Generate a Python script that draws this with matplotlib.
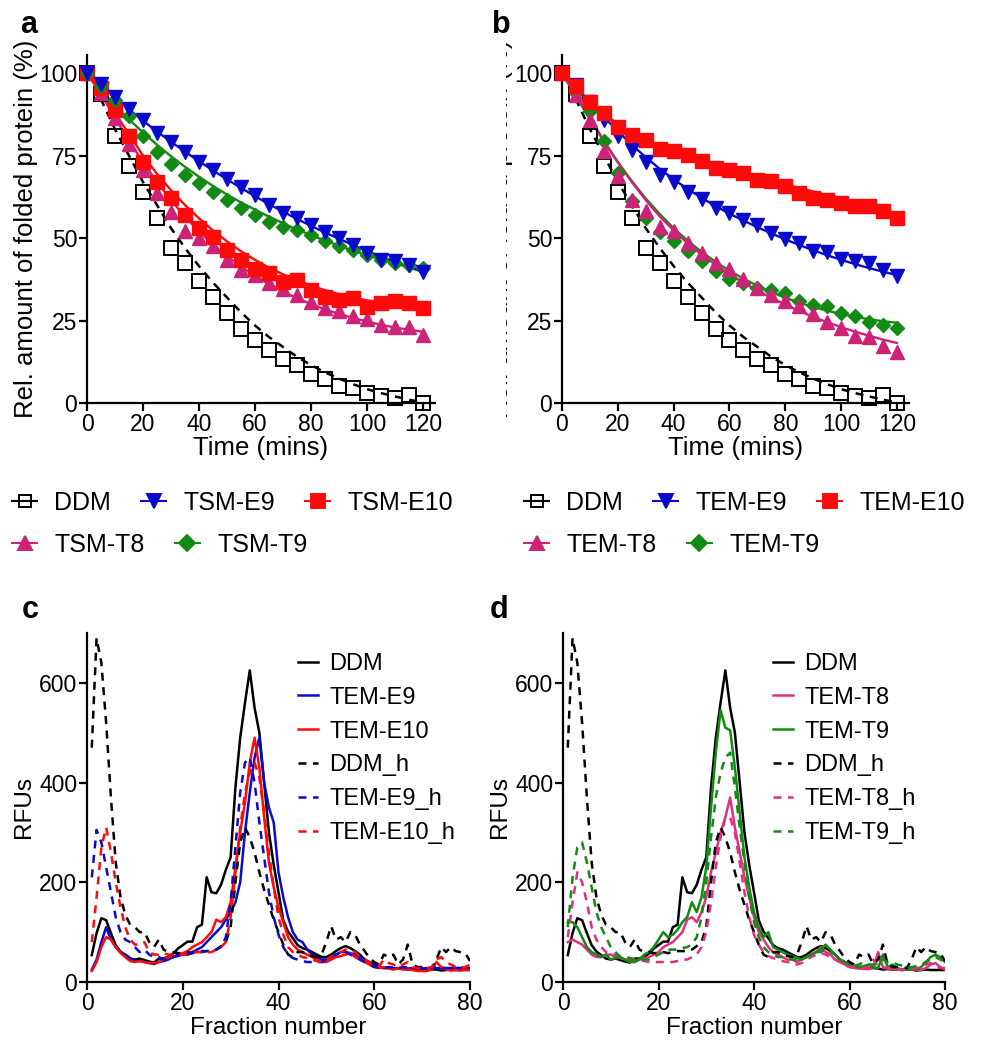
import numpy as np
import matplotlib.pyplot as plt
from matplotlib.lines import Line2D
from matplotlib.transforms import Bbox, TransformedBbox

plt.rcParams['font.family'] = ['Liberation Sans', 'DejaVu Sans']

#---------------------------------------------
# data : thermal stability (a, b)
time_min = list(range(0, 121, 5))

ddm_pts = [100, 93.6, 81, 72, 64, 56, 47, 42.4, 37, 32, 27.3, 22.4, 19.2,
           16.2, 13.3, 11.5, 8.8, 7.2, 5.2, 4.4, 2.9, 2.1, 1.4, 2.4, 0]
ddm_fit = [100, 92, 83, 75, 67, 60, 53, 47, 41.5, 36.5, 32, 27.5, 23.5,
           20, 17, 14, 11.5, 9.3, 7.4, 5.7, 4.2, 3, 2, 1, 0.2]

tsm_e9_pts = [100, 96.8, 92.8, 89.2, 85.7, 81.8, 79.2, 76.2, 73.1, 70.5, 68,
              65.6, 63, 60, 57.5, 56, 53.9, 51.9, 49.9, 47.9, 45.5, 43.5,
              43, 41.8, 39.8]
tsm_e9_fit = [100, 96.3, 92.6, 89, 85.6, 82.3, 79.2, 76.2, 73.3, 70.5, 67.8,
              65.2, 62.7, 60.3, 58, 55.8, 53.7, 51.7, 49.8, 47.9, 46.1, 44.4,
              42.8, 41.2, 39.7]
tsm_e10_pts = [100, 95.5, 88.8, 81, 73, 67, 62, 57, 53, 50.4, 46.4, 43.5,
               40.5, 39.3, 36.8, 37.3, 34.2, 32.2, 31.2, 31.7, 29.2, 30.2,
               31, 30.2, 28.7]
tsm_e10_fit = [100, 94.5, 88, 81.5, 75, 69.5, 64.5, 60, 56, 52.3, 49, 46,
               43.4, 41, 39, 37.2, 35.6, 34.2, 33, 32, 31.1, 30.4, 29.8,
               29.3, 28.9]
tsm_t8_pts = [100, 94, 86.5, 78.5, 70.5, 63.6, 58, 52, 49.9, 47.5, 43.3,
              40.3, 38.8, 36.5, 34.7, 32.7, 30.7, 28.7, 28, 26.3, 25.4, 23.6,
              23.1, 23.1, 20.6]
tsm_t8_fit = [100, 93.5, 86.5, 79.5, 73, 67, 61.5, 56.5, 52, 48, 44.5, 41.3,
              38.5, 36, 33.8, 31.8, 30, 28.4, 27, 25.8, 24.7, 23.7, 22.9,
              22.2, 21.6]
tsm_t9_pts = [100, 96, 92, 87, 81, 76, 72.6, 69, 66.6, 64, 61.5, 59, 57, 55,
              53.5, 52.5, 51, 49, 47.5, 46.4, 44.8, 43.3, 42.3, 41.8, 40.8]
tsm_t9_fit = [100, 95, 90.3, 86, 82, 78.3, 74.8, 71.6, 68.6, 65.8, 63.2,
              60.8, 58.6, 56.5, 54.5, 52.6, 50.9, 49.2, 47.7, 46.2, 44.8,
              43.5, 42.3, 41.2, 40.2]

tem_e9_pts = [100, 96.5, 91.4, 85.7, 80.8, 76.8, 73, 69.2, 66.9, 64.1, 61.8,
              59.1, 57.6, 55.6, 54, 51.5, 49.7, 48.5, 46, 45.8, 43.6, 43.1,
              42.4, 40.2, 38.6]
tem_e9_fit = [100, 95.8, 91.2, 86.7, 82.4, 78.3, 74.5, 71, 67.8, 64.9, 62.2,
              59.7, 57.4, 55.3, 53.3, 51.4, 49.6, 47.9, 46.3, 44.8, 43.4,
              42.1, 40.9, 39.8, 38.8]
tem_e10_pts = [100, 96, 91.4, 87.9, 83.8, 81.3, 79.8, 77, 76.3, 75.3, 73.4,
               71.2, 70.7, 69.7, 67.7, 67.2, 65.7, 63.8, 62.1, 61.6, 60.6,
               59.6, 59.6, 58.1, 56]
tem_e10_fit = [100, 95.5, 91.3, 87.7, 84.6, 82, 79.8, 77.9, 76.2, 74.7, 73.3,
               72, 70.8, 69.6, 68.5, 67.4, 66.3, 65.2, 64.1, 63, 61.9, 60.8,
               59.7, 58.6, 57.5]
tem_t8_pts = [100, 93.4, 85.9, 76.3, 68.7, 61.6, 58.1, 53.5, 52, 48.5, 45.5,
              42.4, 40.6, 37.6, 34.8, 32.8, 30.8, 29.3, 27, 24.7, 22.7, 20.2,
              20, 17.4, 15.4]
tem_t8_fit = [100, 93.5, 86.5, 79.5, 73, 67, 61.5, 56.6, 52.3, 48.4, 45,
              41.9, 39.1, 36.5, 34.1, 31.9, 29.8, 27.9, 26.1, 24.5, 23, 21.6,
              20.4, 19.2, 18.2]
tem_t9_pts = [100, 94, 88.4, 79.5, 69.7, 61.1, 56, 51.8, 49, 46, 42.9, 39.9,
              37.6, 36.4, 34.8, 34.3, 33.3, 30.8, 29.8, 29.3, 27.3, 26.5,
              24.7, 23.5, 22.7]
tem_t9_fit = [100, 93, 86, 79.3, 73, 67.3, 62, 57.3, 53, 49.2, 45.8, 42.8,
              40.1, 37.7, 35.5, 33.6, 31.9, 30.4, 29.1, 28, 27, 26.1, 25.4,
              24.8, 24.3]

#---------------------------------------------
# data : size exclusion profiles (c, d)
fraction = list(range(1, 81))

ddm_sec = [54, 98, 128, 124, 98, 74, 61, 54, 47, 45,
           47, 44, 41, 39, 47, 47, 51, 57, 67, 74,
           81, 81, 110, 115, 210, 180, 178, 195, 225, 250,
           390, 490, 560, 625, 550, 500, 400, 300, 235, 180,
           124, 101, 88, 74, 68, 65, 60, 55, 50, 50,
           55, 62, 68, 72, 68, 62, 55, 45, 40, 35,
           30, 28, 28, 27, 28, 27, 25, 26, 25, 25,
           24, 25, 25, 23, 24, 25, 24, 24, 24, 24]
ddm_h_sec = [470, 690, 640, 520, 370, 240, 170, 135, 115, 110,
             100, 100, 80, 70, 85, 65, 60, 60, 58, 58,
             60, 58, 60, 62, 62, 62, 65, 72, 80, 110,
             200, 280, 310, 290, 260, 220, 185, 155, 125, 100,
             75, 55, 50, 60, 60, 55, 52, 50, 55, 80,
             112, 85, 90, 80, 100, 95, 75, 62, 48, 40,
             35, 55, 50, 55, 35, 45, 75, 35, 30, 30,
             30, 28, 45, 70, 60, 70, 62, 60, 58, 42]
tem_e9_sec = [25, 45, 80, 110, 85, 70, 60, 55, 48, 42,
              42, 40, 38, 36, 40, 42, 45, 50, 52, 55,
              55, 60, 65, 70, 80, 90, 100, 110, 125, 140,
              160, 200, 300, 380, 450, 490, 400, 350, 320, 220,
              170, 130, 100, 85, 80, 65, 55, 50, 45, 45,
              50, 55, 60, 60, 58, 55, 50, 42, 38, 33,
              30, 28, 29, 28, 27, 28, 27, 28, 28, 27,
              28, 27, 28, 28, 27, 28, 28, 27, 28, 28]
tem_e10_sec = [22, 40, 70, 90, 85, 70, 58, 50, 42, 40,
               42, 40, 38, 38, 40, 45, 50, 50, 55, 58,
               62, 70, 75, 80, 90, 100, 125, 120, 130, 160,
               230, 300, 360, 440, 490, 430, 330, 240, 190, 150,
               120, 90, 75, 65, 60, 55, 50, 45, 40, 40,
               45, 50, 52, 55, 58, 50, 45, 40, 35, 30,
               28, 30, 27, 25, 27, 25, 25, 24, 22, 22,
               22, 25, 40, 30, 25, 23, 24, 23, 25, 24]
tem_e9_h_sec = [210, 305, 280, 230, 180, 130, 100, 85, 80, 70,
                60, 65, 55, 50, 50, 45, 45, 50, 55, 55,
                55, 58, 60, 60, 62, 62, 65, 70, 90, 160,
                270, 380, 440, 450, 400, 320, 250, 180, 130, 95,
                70, 55, 48, 45, 42, 40, 40, 40, 40, 45,
                50, 55, 58, 60, 55, 50, 45, 40, 35, 30,
                29, 28, 30, 29, 28, 30, 29, 28, 28, 29,
                28, 28, 30, 29, 28, 28, 29, 28, 30, 29]
tem_e10_h_sec = [80, 170, 270, 310, 260, 200, 150, 110, 85, 75,
                 75, 80, 60, 55, 55, 58, 55, 55, 55, 55,
                 55, 58, 60, 60, 60, 60, 65, 70, 80, 130,
                 220, 310, 380, 420, 440, 410, 340, 260, 190, 130,
                 95, 70, 60, 55, 50, 48, 45, 42, 40, 45,
                 50, 55, 60, 65, 65, 60, 50, 45, 40, 35,
                 32, 45, 38, 35, 30, 35, 40, 30, 28, 27,
                 27, 30, 45, 50, 40, 35, 30, 28, 30, 35]
tem_t8_sec = [80, 85, 80, 75, 65, 55, 50, 50, 55, 55,
              50, 48, 45, 45, 42, 45, 48, 50, 55, 60,
              70, 75, 80, 90, 100, 125, 130, 120, 140, 170,
              220, 260, 300, 330, 370, 310, 260, 210, 170, 130,
              100, 85, 70, 60, 55, 50, 45, 45, 40, 45,
              50, 55, 60, 70, 60, 55, 45, 40, 35, 30,
              28, 27, 26, 26, 28, 60, 30, 27, 26, 25,
              24, 25, 25, 25, 24, 28, 35, 38, 30, 25]
tem_t9_sec = [120, 120, 110, 90, 70, 60, 55, 50, 55, 45,
              48, 50, 45, 40, 40, 45, 55, 60, 70, 85,
              100, 90, 95, 105, 120, 130, 160, 140, 170, 230,
              350, 460, 545, 510, 505, 430, 340, 250, 190, 140,
              110, 90, 100, 70, 65, 60, 55, 52, 48, 45,
              50, 55, 60, 65, 75, 65, 55, 45, 40, 35,
              30, 30, 32, 35, 30, 28, 55, 30, 35, 28,
              25, 25, 28, 25, 30, 40, 50, 55, 50, 40]
tem_t8_h_sec = [90, 160, 220, 200, 160, 110, 85, 70, 60, 55,
                55, 52, 50, 48, 45, 45, 42, 40, 40, 40,
                40, 40, 40, 42, 45, 45, 50, 55, 70, 100,
                160, 230, 290, 330, 330, 300, 240, 180, 130, 95,
                75, 60, 52, 48, 45, 42, 40, 38, 35, 38,
                45, 50, 55, 58, 55, 50, 45, 40, 35, 30,
                30, 28, 28, 30, 45, 30, 28, 28, 25, 25,
                25, 25, 27, 28, 30, 35, 38, 30, 28, 28]
tem_t9_h_sec = [110, 210, 270, 280, 240, 190, 140, 110, 90, 70,
                60, 50, 50, 48, 45, 45, 45, 45, 50, 55,
                60, 65, 65, 65, 68, 70, 75, 90, 130, 200,
                290, 370, 420, 450, 460, 390, 310, 240, 170, 120,
                90, 70, 60, 55, 50, 50, 48, 45, 45, 48,
                50, 55, 60, 60, 65, 60, 55, 45, 40, 35,
                33, 35, 40, 35, 35, 40, 45, 40, 40, 35,
                33, 30, 30, 32, 35, 40, 45, 50, 45, 40]

BLUE = '#0a0acc'
RED = '#ff0a0a'
PINK = '#cc2277'
PINK_L = '#e0307f'
GREEN = '#138a13'
DASH = (0, (3.2, 2.6))

FS_TICK = 16.5
FS_LAB_AB = 18.5
FS_LAB_CD = 17.5
FS_LEG_AB = 18
FS_LEG_CD = 17


def style_ax(ax):
    for s in ['top', 'right']:
        ax.spines[s].set_visible(False)
    for s in ['left', 'bottom']:
        ax.spines[s].set_linewidth(1.6)
    ax.tick_params(width=1.6, length=5.5, labelsize=FS_TICK, pad=1.5)


def decay_panel(ax, series):
    ax.plot(time_min, ddm_fit, color='k', ls=DASH, lw=1.8, zorder=2)
    ax.plot(time_min, ddm_pts, ls='none', marker='s', ms=10.5, mfc='none',
            mec='k', mew=1.4, zorder=3, clip_on=False)
    for pts, fit, col, mk, ms in series:
        ax.plot(time_min, fit, color=col, lw=1.7, zorder=2)
        ax.plot(time_min, pts, ls='none', marker=mk, ms=ms, color=col,
                zorder=3, clip_on=False)
    ax.set_xlim(0, 124.3)
    ax.set_ylim(0, 105.5)
    ax.set_xticks([0, 20, 40, 60, 80, 100, 120])
    ax.set_yticks([0, 25, 50, 75, 100])
    ax.set_xlabel('Time (mins)', fontsize=FS_LAB_AB, labelpad=0)
    ax.set_ylabel('Rel. amount of folded protein (%)', fontsize=FS_LAB_AB,
                  labelpad=1)
    style_ax(ax)


def sec_panel(ax, curves, labels):
    for y, col, ls in curves:
        ax.plot(fraction, y, color=col, ls=ls, lw=1.8)
    ax.set_xlim(0, 80)
    ax.set_ylim(0, 700)
    ax.set_xticks([0, 20, 40, 60, 80])
    ax.set_yticks([0, 200, 400, 600])
    ax.set_xlabel('Fraction number', fontsize=FS_LAB_CD, labelpad=2)
    ax.set_ylabel('RFUs', fontsize=FS_LAB_CD, labelpad=3)
    ax.legend(ax.get_lines(), labels, loc='upper left',
              bbox_to_anchor=(0.526, 0.97), frameon=False,
              fontsize=FS_LEG_CD, handlelength=0.85, handletextpad=0.47,
              labelspacing=0.5, borderaxespad=0)
    style_ax(ax)


def handle(col, mk, ms, mfc=None):
    return Line2D([], [], color=col, ls='-', lw=1.5, marker=mk, ms=ms,
                  mfc=mfc if mfc else col, mec=col, mew=1.4)


fig = plt.figure(figsize=(9.84, 10.5), dpi=100)

ax_a = fig.add_axes([87/984, 1-403/1050, 348/984, 348/1050])
ax_b = fig.add_axes([562/984, 1-403/1050, 347/984, 348/1050])
ax_c = fig.add_axes([87/984, 1-982/1050, 383/984, 349/1050])
ax_d = fig.add_axes([563/984, 1-982/1050, 382/984, 349/1050])

decay_panel(ax_a, [
    (tsm_t8_pts, tsm_t8_fit, PINK, '^', 10),
    (tsm_e10_pts, tsm_e10_fit, RED, 's', 10),
    (tsm_t9_pts, tsm_t9_fit, GREEN, 'D', 7.5),
    (tsm_e9_pts, tsm_e9_fit, BLUE, 'v', 10),
])
decay_panel(ax_b, [
    (tem_t9_pts, tem_t9_fit, GREEN, 'D', 7.5),
    (tem_t8_pts, tem_t8_fit, PINK, '^', 10),
    (tem_e9_pts, tem_e9_fit, BLUE, 'v', 10),
    (tem_e10_pts, tem_e10_fit, RED, 's', 10),
])

# panel b is cropped at its left edge in the original figure
clip = TransformedBbox(Bbox([[506/984, 0], [1, 1]]), fig.transFigure)
ax_b.yaxis.label.set_clip_box(clip)
ax_b.yaxis.label.set_clip_on(True)

# legends under a and b, two rows each
for x0, pre in [(12, 'TSM'), (524, 'TEM')]:
    row1 = [handle('k', 's', 9, mfc='none'), handle(BLUE, 'v', 10),
            handle(RED, 's', 10)]
    row2 = [handle(PINK, '^', 10), handle(GREEN, 'D', 8)]
    kw = dict(loc='center left', frameon=False, fontsize=FS_LEG_AB,
              handlelength=1.0, handletextpad=0.7, columnspacing=1.2,
              borderpad=0, borderaxespad=0)
    fig.legend(row1, ['DDM', pre + '-E9', pre + '-E10'], ncol=3,
               bbox_to_anchor=(x0/984, 1-503/1050), **kw)
    fig.legend(row2, [pre + '-T8', pre + '-T9'], ncol=2,
               bbox_to_anchor=(x0/984, 1-545/1050), **kw)

sec_panel(ax_c, [
    (ddm_sec, 'k', '-'), (tem_e9_sec, BLUE, '-'), (tem_e10_sec, RED, '-'),
    (ddm_h_sec, 'k', DASH), (tem_e9_h_sec, BLUE, DASH),
    (tem_e10_h_sec, RED, DASH),
], ['DDM', 'TEM-E9', 'TEM-E10', 'DDM_h', 'TEM-E9_h', 'TEM-E10_h'])
sec_panel(ax_d, [
    (ddm_sec, 'k', '-'), (tem_t8_sec, PINK_L, '-'), (tem_t9_sec, GREEN, '-'),
    (ddm_h_sec, 'k', DASH), (tem_t8_h_sec, PINK_L, DASH),
    (tem_t9_h_sec, GREEN, DASH),
], ['DDM', 'TEM-T8', 'TEM-T9', 'DDM_h', 'TEM-T8_h', 'TEM-T9_h'])

for lt, x, y in [('a', 20, 25), ('b', 492, 25), ('c', 22, 610), ('d', 490, 610)]:
    fig.text(x/984, 1-y/1050, lt, fontsize=22, fontweight='bold',
             va='center', ha='left')

fig.savefig('out.png', dpi=100)
